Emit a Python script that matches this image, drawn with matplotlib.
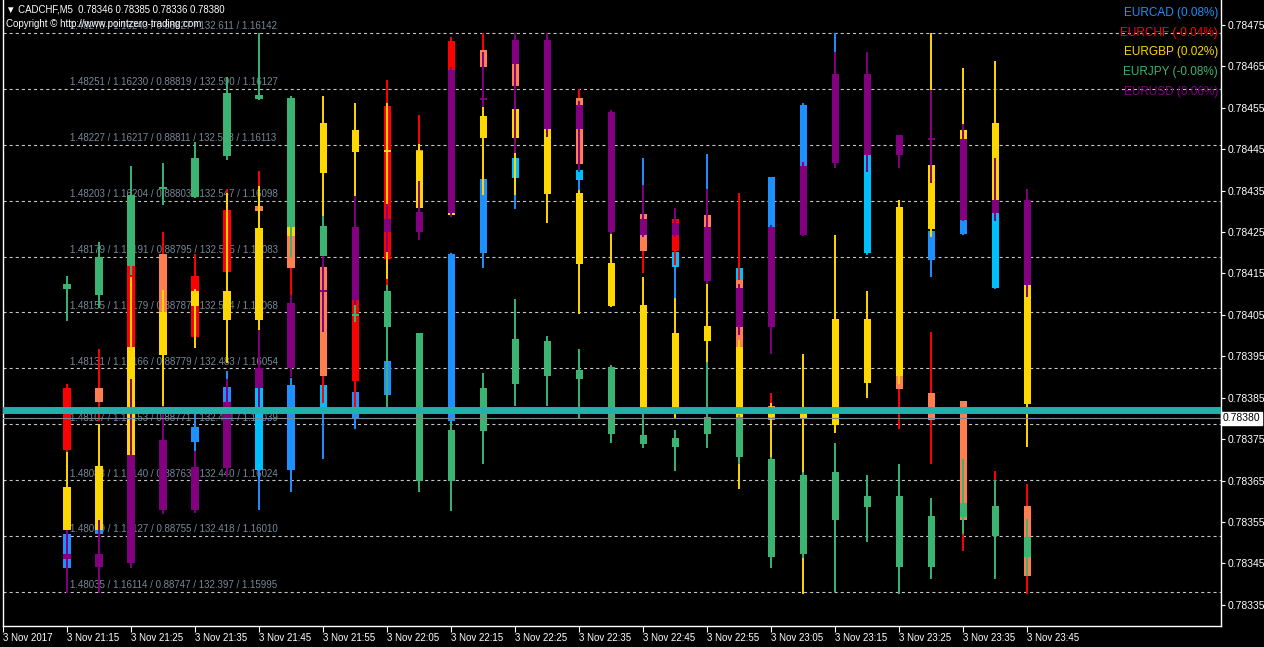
import numpy as np
import pandas as pd
import matplotlib
matplotlib.use("Agg")
import matplotlib.pyplot as plt
import matplotlib.transforms as mtransforms
from matplotlib.ticker import FormatStrFormatter

plt.rcParams['font.family'] = ['Liberation Sans', 'DejaVu Sans']
plt.rcParams['lines.scale_dashes'] = False

# 5 minute bars, 3 Nov 2017
times = pd.date_range("2017-11-03 21:15", periods=31, freq="5min")

# all pairs are shown rescaled onto the CADCHF price axis
eurcad_open = [0.783439, 0.783521, 0.783533, 0.783603, 0.783743, 0.783840, 0.783874, 0.783676, 0.783881, 0.783801, 0.783857,
               0.783748, 0.783794, 0.784199, 0.784429, 0.784380, 0.784400, 0.784376, 0.784255, 0.784202, 0.784158, 0.784163,
               0.784262, 0.784409, 0.784545, 0.784436, 0.784231, 0.784182, 0.784245, 0.784296, 0.784207]
eurcad_high = [0.783524, 0.783536, 0.783555, 0.783736, 0.783825, 0.783914, 0.783874, 0.783898, 0.783883, 0.783869, 0.783946,
               0.783844, 0.784199, 0.784380, 0.784429, 0.784400, 0.784400, 0.784388, 0.784429, 0.784202, 0.784438, 0.784163,
               0.784383, 0.784561, 0.784730, 0.784436, 0.784243, 0.784252, 0.784279, 0.784296, 0.784243]
eurcad_low = [0.783434, 0.783519, 0.783526, 0.783584, 0.783721, 0.783820, 0.783579, 0.783622, 0.783702, 0.783774, 0.783849,
              0.783724, 0.783791, 0.784163, 0.784306, 0.784351, 0.784344, 0.784327, 0.784238, 0.784091, 0.784146, 0.784129,
              0.784262, 0.784409, 0.784532, 0.784195, 0.784170, 0.784141, 0.784243, 0.784112, 0.784195]
eurcad_close = [0.783521, 0.783533, 0.783543, 0.783729, 0.783779, 0.783876, 0.783676, 0.783881, 0.783813, 0.783864, 0.783939,
                0.783794, 0.784197, 0.784378, 0.784380, 0.784363, 0.784376, 0.784339, 0.784289, 0.784166, 0.784243, 0.784134,
                0.784383, 0.784557, 0.784617, 0.784199, 0.784182, 0.784252, 0.784279, 0.784115, 0.784231]

eurchf_open = [0.783724, 0.783874, 0.783840, 0.784197, 0.783997, 0.784153, 0.784313, 0.784240, 0.784166, 0.783890, 0.784185,
               0.784448, 0.784641, 0.784689, 0.784656, 0.784665, 0.784574, 0.784400, 0.784294, 0.784204, 0.784291, 0.784134,
               0.783830, 0.784327, 0.784496, 0.784569, 0.783902, 0.783862, 0.783842, 0.783531, 0.783589]
eurchf_high = [0.783883, 0.783968, 0.784168, 0.784250, 0.784197, 0.784354, 0.784397, 0.784255, 0.784170, 0.784110, 0.784617,
               0.784532, 0.784721, 0.784730, 0.784665, 0.784730, 0.784595, 0.784412, 0.784303, 0.784291, 0.784298, 0.784344,
               0.783862, 0.784339, 0.784520, 0.784593, 0.783902, 0.784009, 0.783842, 0.783673, 0.783642]
eurchf_low = [0.783719, 0.783794, 0.783832, 0.783965, 0.783989, 0.784146, 0.784255, 0.784098, 0.783837, 0.783828, 0.784112,
              0.784315, 0.784629, 0.784641, 0.784593, 0.784641, 0.784400, 0.784303, 0.784151, 0.784170, 0.784243, 0.783965,
              0.783796, 0.784267, 0.784436, 0.784448, 0.783774, 0.783690, 0.783480, 0.783519, 0.783376]
eurchf_close = [0.783874, 0.783840, 0.784168, 0.783977, 0.784144, 0.784303, 0.784301, 0.784163, 0.783902, 0.784086, 0.784554,
                0.784327, 0.784711, 0.784648, 0.784602, 0.784701, 0.784414, 0.784327, 0.784204, 0.784282, 0.784262, 0.783973,
                0.783796, 0.784279, 0.784448, 0.784472, 0.783871, 0.783796, 0.783555, 0.783579, 0.783420]

eurgbp_open = [0.783634, 0.783685, 0.783973, 0.784057, 0.784108, 0.784108, 0.784260, 0.784262, 0.784513, 0.784496, 0.784448,
               0.784446, 0.784327, 0.784530, 0.784547, 0.784499, 0.784344, 0.784175, 0.784074, 0.784006, 0.784023, 0.783973,
               0.783820, 0.783820, 0.784040, 0.784040, 0.784310, 0.784412, 0.784496, 0.784513, 0.784122]
eurgbp_high = [0.783719, 0.783786, 0.784141, 0.784110, 0.784112, 0.784344, 0.784361, 0.784267, 0.784578, 0.784561, 0.784561,
               0.784462, 0.784339, 0.784552, 0.784569, 0.784508, 0.784351, 0.784250, 0.784141, 0.784091, 0.784129, 0.783989,
               0.783837, 0.783955, 0.784243, 0.784108, 0.784327, 0.784730, 0.784646, 0.784663, 0.784134]
eurgbp_low = [0.783526, 0.783524, 0.783704, 0.783830, 0.783970, 0.783934, 0.784013, 0.784207, 0.784289, 0.784337, 0.784137,
              0.784298, 0.784286, 0.784339, 0.784339, 0.784272, 0.784052, 0.784069, 0.783813, 0.783799, 0.783936, 0.783630,
              0.783702, 0.783376, 0.783765, 0.783849, 0.783883, 0.784238, 0.784315, 0.784315, 0.783731]
eurgbp_close = [0.783531, 0.783531, 0.783712, 0.783953, 0.784071, 0.784038, 0.784038, 0.784240, 0.784392, 0.784443, 0.784443,
                0.784308, 0.784291, 0.784477, 0.784477, 0.784342, 0.784173, 0.784071, 0.783818, 0.783818, 0.783987, 0.783803,
                0.783803, 0.783801, 0.783784, 0.783886, 0.783902, 0.784257, 0.784327, 0.784327, 0.783835]

eurjpy_open = [0.784124, 0.784190, 0.784339, 0.784359, 0.784429, 0.784586, 0.784581, 0.784574, 0.784264, 0.784052, 0.784108,
               0.784006, 0.783772, 0.783874, 0.783992, 0.783987, 0.783917, 0.783924, 0.783760, 0.783753, 0.783803, 0.783803,
               0.783702, 0.783663, 0.783671, 0.783613, 0.783613, 0.783565, 0.783596, 0.783589, 0.783514]
eurjpy_high = [0.784144, 0.784226, 0.784409, 0.784417, 0.784467, 0.784624, 0.784730, 0.784578, 0.784289, 0.784074, 0.784122,
               0.784006, 0.783794, 0.783910, 0.784088, 0.783999, 0.783968, 0.783929, 0.783828, 0.783772, 0.783936, 0.783808,
               0.783707, 0.783671, 0.783741, 0.783663, 0.783690, 0.783608, 0.783702, 0.783651, 0.783557]
eurjpy_low = [0.784035, 0.784067, 0.784146, 0.784315, 0.784332, 0.784424, 0.784569, 0.784190, 0.784187, 0.784033, 0.783820,
              0.783622, 0.783577, 0.783690, 0.783830, 0.783830, 0.783801, 0.783741, 0.783729, 0.783673, 0.783729, 0.783690,
              0.783439, 0.783463, 0.783381, 0.783502, 0.783376, 0.783412, 0.783521, 0.783412, 0.783420]
eurjpy_close = [0.784112, 0.784098, 0.784168, 0.784354, 0.784334, 0.784433, 0.784571, 0.784262, 0.784192, 0.784047, 0.784021,
                0.783649, 0.783649, 0.783770, 0.783883, 0.783902, 0.783895, 0.783762, 0.783738, 0.783731, 0.783762, 0.783707,
                0.783466, 0.783473, 0.783555, 0.783586, 0.783441, 0.783441, 0.783562, 0.783516, 0.783466]

eurusd_open = [0.783473, 0.783473, 0.783712, 0.783748, 0.783683, 0.783840, 0.783922, 0.784079, 0.784110, 0.784262, 0.784282,
               0.784298, 0.784641, 0.784574, 0.784714, 0.784714, 0.784557, 0.784540, 0.784282, 0.784272, 0.784262, 0.784115,
               0.784262, 0.784409, 0.784631, 0.784631, 0.784484, 0.784477, 0.784474, 0.784327, 0.784327]
eurusd_high = [0.783531, 0.783555, 0.783895, 0.783830, 0.783721, 0.783895, 0.784013, 0.784098, 0.784192, 0.784337, 0.784318,
               0.784373, 0.784648, 0.784684, 0.784730, 0.784730, 0.784566, 0.784545, 0.784363, 0.784308, 0.784354, 0.784124,
               0.784267, 0.784419, 0.784684, 0.784684, 0.784484, 0.784593, 0.784511, 0.784429, 0.784354]
eurusd_low = [0.783379, 0.783379, 0.783439, 0.783569, 0.783572, 0.783659, 0.783828, 0.783900, 0.784009, 0.784074, 0.784202,
              0.784231, 0.784286, 0.784552, 0.784441, 0.784479, 0.784395, 0.784245, 0.784238, 0.784238, 0.784124, 0.784001,
              0.783955, 0.784240, 0.784404, 0.784395, 0.784404, 0.784368, 0.784277, 0.784277, 0.784093]
eurusd_close = [0.783461, 0.783441, 0.783451, 0.783579, 0.783579, 0.783680, 0.783874, 0.783922, 0.784105, 0.784086, 0.784250,
                0.784250, 0.784296, 0.784569, 0.784656, 0.784499, 0.784499, 0.784250, 0.784243, 0.784243, 0.784132, 0.784021,
                0.784021, 0.784243, 0.784417, 0.784436, 0.784436, 0.784472, 0.784279, 0.784296, 0.784122]

pair_names = ["EURCAD", "EURCHF", "EURGBP", "EURJPY", "EURUSD"]
pair_changes = ["0.08%", "-0.04%", "0.02%", "-0.08%", "0.06%"]
up_colors = ["#1E90FF", "#FF0000", "#FFD700", "#3CB371", "#800080"]
down_colors = ["#00BFFF", "#FF7F50", "#FFD700", "#3CB371", "#800080"]

# level lines with the prices of the five pairs at that level
grid_levels = [0.784730, 0.784595, 0.784460, 0.784325, 0.784190, 0.784056,
               0.783921, 0.783786, 0.783651, 0.783516, 0.783381]
grid_labels = ["1.48275 / 1.16243 / 0.88827 / 132.611 / 1.16142",
               "1.48251 / 1.16230 / 0.88819 / 132.590 / 1.16127",
               "1.48227 / 1.16217 / 0.88811 / 132.568 / 1.16113",
               "1.48203 / 1.16204 / 0.88803 / 132.547 / 1.16098",
               "1.48179 / 1.16191 / 0.88795 / 132.525 / 1.16083",
               "1.48155 / 1.16179 / 0.88787 / 132.504 / 1.16068",
               "1.48131 / 1.16166 / 0.88779 / 132.483 / 1.16054",
               "1.48107 / 1.16153 / 0.88771 / 132.461 / 1.16039",
               "1.48083 / 1.16140 / 0.88763 / 132.440 / 1.16024",
               "1.48059 / 1.16127 / 0.88755 / 132.418 / 1.16010",
               "1.48035 / 1.16114 / 0.88747 / 132.397 / 1.15995"]

cadchf_ohlc = [0.78346, 0.78385, 0.78336, 0.78380]
bid_price = 0.78380
band_price = 0.783820

pairs = [
    (eurcad_open, eurcad_high, eurcad_low, eurcad_close),
    (eurchf_open, eurchf_high, eurchf_low, eurchf_close),
    (eurgbp_open, eurgbp_high, eurgbp_low, eurgbp_close),
    (eurjpy_open, eurjpy_high, eurjpy_low, eurjpy_close),
    (eurusd_open, eurusd_high, eurusd_low, eurusd_close),
]

fig = plt.figure(figsize=(12.64, 6.47), dpi=100, facecolor="black")
ax = fig.add_axes([3 / 1264, 21 / 647, 1218 / 1264, 626 / 647])
ax.set_facecolor("black")

x = np.arange(len(times))
ax.set_xlim(-2, 36.06)
ax.set_ylim(0.783299, 0.784810)

lab_tr = mtransforms.blended_transform_factory(ax.transAxes, ax.transData)
for lvl, txt in zip(grid_levels, grid_labels):
    ax.axhline(lvl, color="#C8C8C8", lw=0.8, dashes=(2.2, 2.2), zorder=1)
    ax.text(0.055, lvl + 0.000004, txt, transform=lab_tr, color="#778899",
            fontsize=7, va="bottom", ha="left", zorder=1)

body_w = 0.22
min_h = 0.0000025
for k, (o, h, l, c) in enumerate(pairs):
    o = np.array(o)
    c = np.array(c)
    hi = np.maximum(np.array(h), np.maximum(o, c))
    lo = np.minimum(np.array(l), np.minimum(o, c))
    ht = c - o
    ht = np.where(np.abs(ht) < min_h, np.where(ht < 0, -min_h, min_h), ht)
    cols = [up_colors[k] if cc >= oo else down_colors[k] for oo, cc in zip(o, c)]
    ax.vlines(x, lo, hi, color=up_colors[k], lw=1.4, zorder=2 + 2 * k)
    ax.bar(x, ht, bottom=o, width=body_w, color=cols, linewidth=0, zorder=3 + 2 * k)

ax.axhline(band_price, color="#20B2AA", lw=5, zorder=20)
ax.axhline(bid_price, color="#778899", lw=0.8, zorder=21)

# axes styling
for s in ax.spines.values():
    s.set_color("white")
    s.set_linewidth(1)
ax.spines["top"].set_visible(False)
ax.yaxis.tick_right()
ax.set_yticks(np.arange(0.78335, 0.784751, 0.0001))
ax.yaxis.set_major_formatter(FormatStrFormatter("%.5f"))
ax.tick_params(axis="y", colors="white", labelsize=7.5, length=3, pad=2)

tick_pos = list(range(-2, 31, 2))
tick_times = pd.date_range("2017-11-03 21:05", periods=len(tick_pos), freq="10min")
tick_lbl = ["3 Nov 2017"] + [t.strftime("%-d %b %H:%M") for t in tick_times[1:]]
ax.set_xticks(tick_pos)
ax.set_xticklabels(tick_lbl, ha="left")
ax.tick_params(axis="x", colors="white", labelsize=7, length=4, pad=1)

ax.text(1.0015, bid_price, "0.78380", transform=lab_tr, color="black", fontsize=7.5,
        va="center", ha="left", zorder=30,
        bbox=dict(facecolor="white", edgecolor="white", pad=1.2))

# header texts
fig.text(6 / 1264, 1 - 10 / 647, "\u25bc CADCHF,M5  " + " ".join(f"{v:.5f}" for v in cadchf_ohlc),
         color="white", fontsize=6.9, va="center", ha="left")
fig.text(6 / 1264, 1 - 24 / 647, "Copyright \u00a9 http://www.pointzero-trading.com",
         color="white", fontsize=7, va="center", ha="left", zorder=5)

for k, (nm, ch) in enumerate(zip(pair_names, pair_changes)):
    fig.text(1218 / 1264, 1 - (13 + 19.7 * k) / 647, f"{nm} ({ch})", color=up_colors[k],
             fontsize=8.5, va="center", ha="right")

fig.savefig("out.png", dpi=100, facecolor="black")
